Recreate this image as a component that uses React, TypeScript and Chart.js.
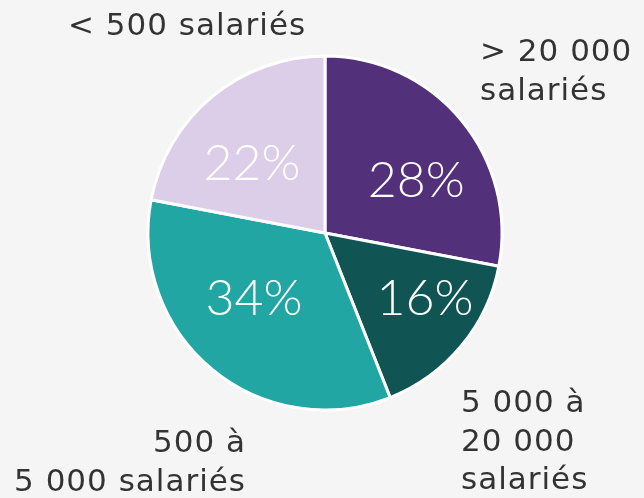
import React, { useEffect, useRef } from "react";
import { Chart, registerables } from "chart.js";

Chart.register(...registerables);

// ---- data ----
const categories = [
  "> 20 000 salariés",
  "5 000 à 20 000 salariés",
  "500 à 5 000 salariés",
  "< 500 salariés",
];
const shares = [28, 16, 34, 22];
const sliceColors = ["#52307A", "#105553", "#21A6A4", "#DCCDE9"];
const labelLines = [
  ["> 20 000", "salariés"],
  ["5 000 à", "20 000", "salariés"],
  ["500 à", "5 000 salariés"],
  ["< 500 salariés"],
];

// ---- label placement (relative to pie geometry) ----
const pctAngleShiftDeg = [8.9, -7, 8.4, -6.2];
const pctRadiusFrac = [0.6, 0.67, 0.54, 0.575];
// outer label anchor: offset from centre in units of radius, alignment
const outerAnchor = [
  { dx: 155 / 177, dy: -172 / 177, align: "left" },
  { dx: 136 / 177, dy: 179 / 177, align: "left" },
  { dx: -79 / 177, dy: 219 / 177, align: "right" },
  { dx: -257 / 177, dy: -198 / 177, align: "left" },
];

const BG = "#F5F5F5";

const labelPlugin = {
  id: "pieLabels",
  afterDatasetsDraw(chart: any) {
    const ctx = chart.ctx;
    const meta = chart.getDatasetMeta(0);
    ctx.save();
    meta.data.forEach((arc: any, i: number) => {
      const p = arc.getProps(["x", "y", "startAngle", "endAngle", "outerRadius"], true);
      const R = p.outerRadius;
      // percentage
      const mid = (p.startAngle + p.endAngle) / 2 + (pctAngleShiftDeg[i] * Math.PI) / 180;
      const r = R * pctRadiusFrac[i];
      const cx = p.x + Math.cos(mid) * r;
      const cy = p.y + Math.sin(mid) * r;
      const pctSize = 50;
      ctx.font = `300 ${pctSize}px Lato, "DejaVu Sans", sans-serif`;
      ctx.fillStyle = "#FFFFFF";
      ctx.textAlign = "center";
      ctx.textBaseline = "alphabetic";
      (ctx as any).letterSpacing = "0px";
      ctx.fillText(`${shares[i]}%`, cx, cy + pctSize * 0.36);
      // outer label
      const a = outerAnchor[i];
      const lx = p.x + a.dx * R;
      const ly = p.y + a.dy * R;
      ctx.font = `400 31px "DejaVu Sans", sans-serif`;
      (ctx as any).letterSpacing = "1px";
      ctx.fillStyle = "#333333";
      ctx.textAlign = a.align;
      labelLines[i].forEach((line, k) => {
        ctx.fillText(line, lx, ly + k * 38.5);
      });
    });
    ctx.restore();
  },
};

const bgPlugin = {
  id: "bg",
  beforeDraw(chart: any) {
    const ctx = chart.ctx;
    ctx.save();
    ctx.fillStyle = BG;
    ctx.fillRect(0, 0, chart.width, chart.height);
    ctx.restore();
  },
};

export default function App() {
  const ref = useRef<HTMLCanvasElement | null>(null);
  useEffect(() => {
    document.body.style.margin = "0";
    document.body.style.background = BG;
    if (!ref.current) return;
    const chart = new Chart(ref.current, {
      type: "pie",
      data: {
        labels: categories,
        datasets: [
          {
            data: shares,
            backgroundColor: sliceColors,
            borderColor: "#FFFFFF",
            borderWidth: 3,
          },
        ],
      },
      options: {
        animation: false,
        responsive: false,
        radius: 177,
        layout: { padding: { left: 6, right: 0, top: 0, bottom: 32 } },
        plugins: {
          legend: { display: false },
          tooltip: { enabled: false },
        },
      } as any,
      plugins: [bgPlugin, labelPlugin],
    });
    return () => chart.destroy();
  }, []);
  return (
    <div style={{ width: 644, height: 498, background: BG }}>
      <canvas ref={ref} width={644} height={498} style={{ display: "block" }} />
    </div>
  );
}
